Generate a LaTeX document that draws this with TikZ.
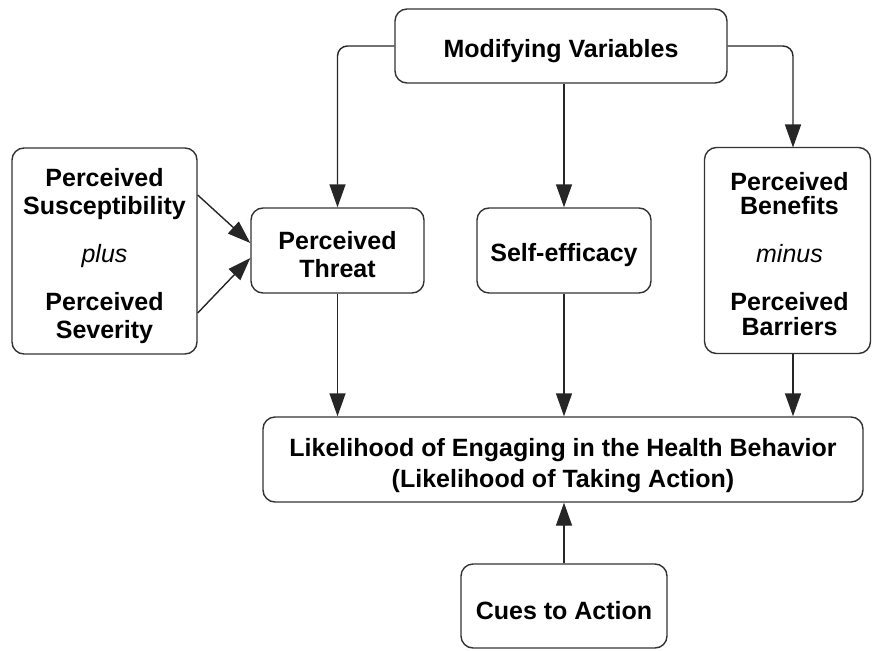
\documentclass[tikz,border=0pt]{standalone}
\usepackage{fontspec}
\setmainfont{Liberation Sans}
\usetikzlibrary{arrows.meta,positioning}
\tikzset{
  box/.style={draw=black!80, line width=1.4pt, rounded corners=12pt, inner sep=0pt},
  txt/.style={align=center, font=\fontsize{25}{28}\selectfont\bfseries, inner sep=0pt},
  arr/.style={draw=black!85, line width=1.4pt, -{Triangle[length=23pt,width=16pt]}},
}
\begin{document}
\begin{tikzpicture}[x=1pt,y=-1pt]
\useasboundingbox (0,0) rectangle (872,650);
\node[box, minimum width=332pt, minimum height=74pt] (mv) at (561,46) {};
\node[box, minimum width=185pt, minimum height=206pt] (ls) at (104.5,251) {};
\node[box, minimum width=173pt, minimum height=85pt] (pt) at (337.5,250.5) {};
\node[box, minimum width=174pt, minimum height=85pt] (se) at (564,250.5) {};
\node[box, minimum width=166pt, minimum height=206pt] (rb) at (787.5,250.5) {};
\node[box, minimum width=600pt, minimum height=85pt] (lk) at (563,459.5) {};
\node[box, minimum width=206pt, minimum height=84pt] (ca) at (564,606) {};

\node[txt] (mvt) at ([yshift=-5pt]mv.center) {Modifying Variables};
\node[txt] (lst) at ([yshift=-5pt]ls.center)
  {Perceived\\Susceptibility\\[20pt]\normalfont\itshape plus\\[20pt]Perceived\\Severity};
\node[txt] (ptt) at ([yshift=-4pt]pt.center) {Perceived\\Threat};
\node[txt] (set) at ([yshift=-5pt]se.center) {Self-efficacy};
\node[txt] (rbt) at ([xshift=2pt,yshift=-4pt]rb.center)
  {Perceived\\[-4pt]Benefits\\[20pt]\normalfont\itshape minus\\[20pt]Perceived\\[-3pt]Barriers};
\node[txt] (lkt) at ([yshift=-6pt]lk.center)
  {Likelihood of Engaging in the Health Behavior\\[3pt](Likelihood of Taking Action)};
\node[txt] (cat) at ([yshift=-5pt]ca.center) {Cues to Action};

\coordinate (rbin) at (793,147.5);
\draw[arr, rounded corners=10pt] (mv.west) -| (pt.north);
\draw[arr, rounded corners=10pt] (mv.east) -| (rbin);
\draw[arr] (se.north |- mv.south) -- (se.north);
\draw[arr] ([yshift=56pt]ls.east) -- ([yshift=7.5pt]pt.west);
\draw[arr] ([yshift=-62pt]ls.east) -- ([yshift=-7.5pt]pt.west);
\draw[arr] (pt.south) -- (pt.south |- lk.north);
\draw[arr] (se.south) -- (se.south |- lk.north);
\draw[arr] (rbin |- rb.south) -- (rbin |- lk.north);
\draw[arr] (ca.north) -- (ca.north |- lk.south);
\end{tikzpicture}
\end{document}
